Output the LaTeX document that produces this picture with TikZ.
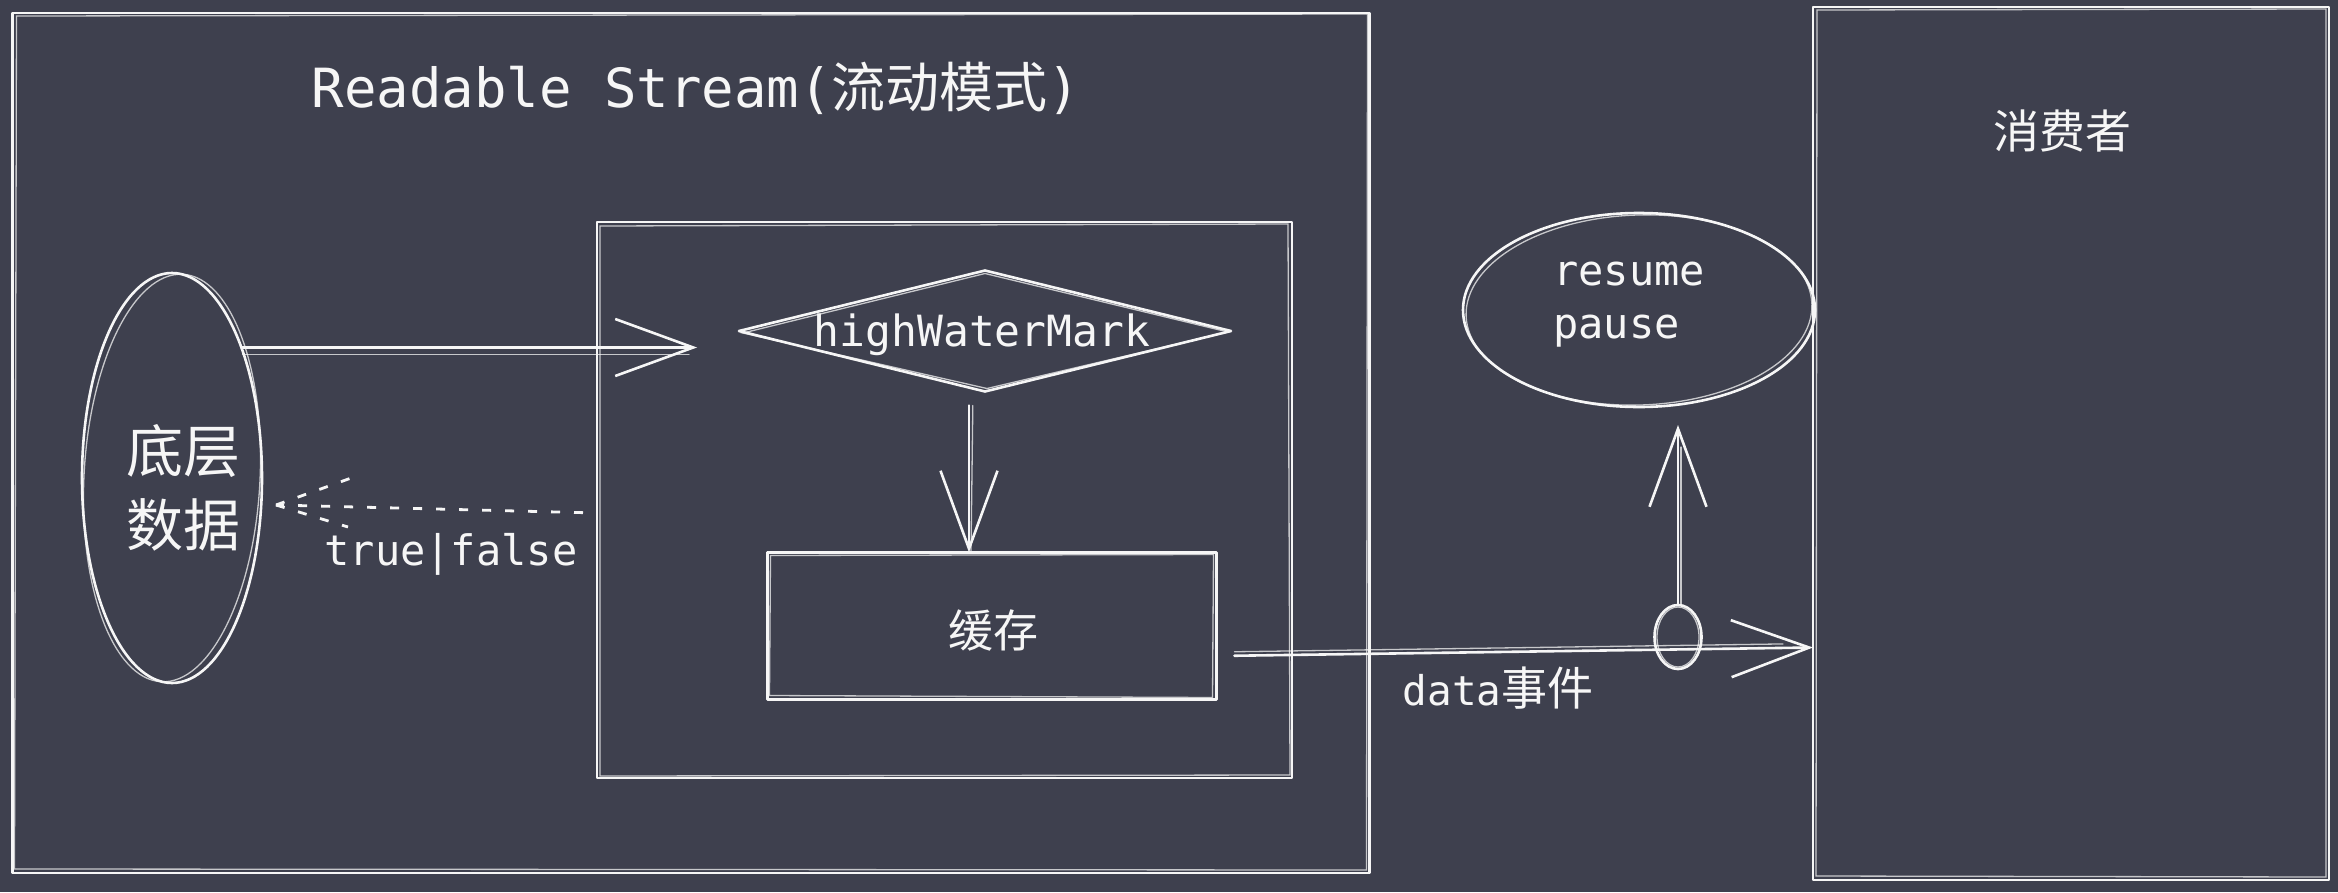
\documentclass[tikz,border=0pt]{standalone}
\usepackage{fontspec}
\setmonofont{DejaVu Sans Mono}
\newfontfamily\cjk{Noto Sans CJK SC}
\usetikzlibrary{shapes.geometric,arrows.meta}
\definecolor{bg}{RGB}{62,64,78}
\definecolor{ink}{RGB}{246,246,246}
\newcommand\fs[1]{\fontsize{#1}{#1}\selectfont}
\begin{document}
\begin{tikzpicture}[x=1pt,y=-1pt,
  sk/.style={draw=ink, line width=2.6pt, line join=round, line cap=round, inner sep=0pt, outer sep=0pt},
  sktwo/.style={draw=ink, line width=1.3pt, opacity=.75, line cap=round},
  txt/.style={text=ink, inner sep=0pt},
  conn/.style={draw=ink, line width=2.6pt, line cap=round,
    -{Straight Barb[length=78pt,width=57pt,line width=2.6pt]}},
  dotline/.style={draw=ink, line width=2.8pt, dash pattern=on 9pt off 14pt}]
\fill[bg] (0,0) rectangle (2338,892);
\useasboundingbox (0,0) rectangle (2338,892);

% outer box
\node[sk, minimum width=1357pt, minimum height=860pt] (outer) at (691,443) {};
\draw[sktwo] ([shift={(4pt,-3pt)}]outer.north west) -- ([shift={(-2pt,-1pt)}]outer.north east)
  -- ([shift={(-3pt,3pt)}]outer.south east) -- ([shift={(2pt,4pt)}]outer.south west) -- cycle;
\node[txt, anchor=base, font={\fs{54}\ttfamily}] (title) at (696,107) {Readable Stream({\cjk 流动模式})};

% source ellipse
\node[sk, ellipse, minimum width=180pt, minimum height=410pt] (src) at (172,478) {};
\draw[sktwo, rotate around={-3:(src.center)}] (src.center) ellipse [x radius=88pt, y radius=204pt];
\node[txt, align=center, font={\fontsize{57}{74}\selectfont\cjk}] (srctext) at (183,488) {底层\\数据};

% inner box
\node[sk, minimum width=695pt, minimum height=556pt] (inner) at (944.5,500) {};
\draw[sktwo] ([shift={(3pt,-4pt)}]inner.north west) -- ([shift={(-4pt,-2pt)}]inner.north east)
  -- ([shift={(-2pt,3pt)}]inner.south east) -- ([shift={(3pt,2pt)}]inner.south west) -- cycle;

% diamond
\node[sk, diamond, minimum width=492pt, minimum height=121pt] (hwm) at (985,331) {};
\draw[sktwo] ([shift={(4pt,-2pt)}]hwm.west) -- ([shift={(0pt,-3pt)}]hwm.north) -- ([shift={(-3pt,-1pt)}]hwm.east)
  -- ([shift={(2pt,3pt)}]hwm.south) -- cycle;
\node[txt, anchor=base, font={\fs{43}\ttfamily}] (hwmtext) at (982,346) {highWaterMark};

% cache box
\node[sk, minimum width=449pt, minimum height=147pt] (cache) at (992,626) {};
\draw[sktwo] ([shift={(3pt,-3pt)}]cache.north west) -- ([shift={(-3pt,-2pt)}]cache.north east)
  -- ([shift={(-4pt,2pt)}]cache.south east) -- ([shift={(2pt,4pt)}]cache.south west) -- cycle;
\node[txt, font={\fs{45}\cjk}] (cachetext) at (993,630) {缓存};

% consumer box
\node[sk, minimum width=516pt, minimum height=873pt] (cons) at (2071,443.5) {};
\draw[sktwo] ([shift={(4pt,-3pt)}]cons.north west) -- ([shift={(-3pt,-2pt)}]cons.north east)
  -- ([shift={(-3pt,3pt)}]cons.south east) -- ([shift={(3pt,4pt)}]cons.south west) -- cycle;
\node[txt, font={\fs{46}\cjk}] (constext) at (2062,131) {消费者};

% control ellipse
\node[sk, ellipse, minimum width=352pt, minimum height=194pt] (ctl) at (1639,310) {};
\draw[sktwo, rotate around={2:(ctl.center)}] (ctl.center) ellipse [x radius=173pt, y radius=95pt];
\node[txt, align=left, anchor=west, font={\fontsize{42}{53}\selectfont\ttfamily}] (ctltext) at (1553,305) {resume\\pause};

% knot
\node[sk, ellipse, minimum width=47pt, minimum height=64pt] (knot) at (1678,637) {};
\draw[sktwo] (knot.center) ellipse [x radius=21pt, y radius=30pt];

% connectors
\draw[conn, shorten >=42pt] (src.62) -- (src.62 -| hwm.west);
\draw[sktwo, transform canvas={yshift=-4pt}] (src.61) -- ([xshift=-50pt]src.61 -| hwm.west);

\coordinate (dtip) at ([shift={(14pt,-27pt)}]src.east);
\draw[dotline, shorten <=14pt] (inner.west |- 0,513) -- (dtip);
\draw[dotline] (dtip) -- ++(78,-28);
\draw[dotline] (dtip) -- ++(72,22);
\node[txt, anchor=base, font={\fs{42}\ttfamily}] (tf) at (451,565) {true|false};

\draw[conn, shorten <=14pt] ([xshift=-16pt]hwm.south) -- ([xshift=-23pt]cache.north);
\draw[sktwo, shorten <=14pt] ([xshift=-12pt]hwm.south) -- ([xshift=-21pt]cache.north);

\draw[conn, shorten <=18pt] ([yshift=-30pt]cache.east) -- ([yshift=-204pt]cons.west);
\draw[sktwo, shorten <=18pt, shorten >=30pt] ([yshift=-26pt]cache.east) -- ([yshift=-200pt]cons.west);
\node[txt, anchor=base, font={\fs{41}\ttfamily}] (datatext) at (1498,705) {data{\fs{46}\cjk 事件}};

\draw[conn, shorten >=18pt] (knot.north) -- (knot.north |- ctl.south);
\draw[sktwo, shorten >=40pt] ([xshift=3pt]knot.north) -- ([xshift=3pt]knot.north |- ctl.south);
\end{tikzpicture}
\end{document}
